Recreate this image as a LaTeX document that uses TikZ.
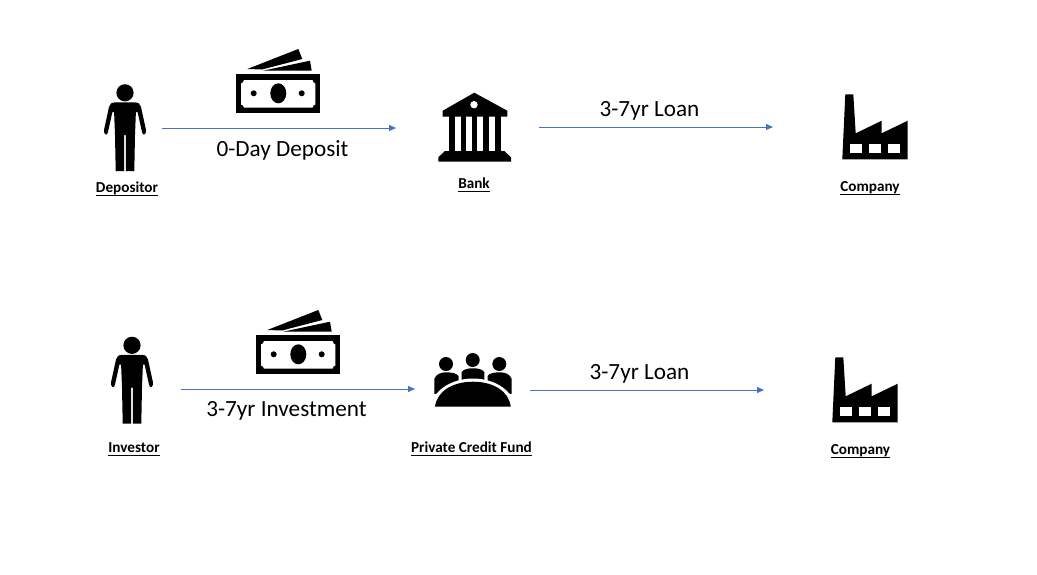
\documentclass[tikz,border=0pt]{standalone}
\usepackage{fontspec}
\setmainfont{Carlito}
\usetikzlibrary{arrows.meta}
\definecolor{arrowblue}{HTML}{4472C4}
\newcommand{\capul}[1]{\underline{\smash{#1}\rule[-1.5pt]{0pt}{0pt}}}
\tikzset{
  ink/.style={fill=black,draw=none},
  hole/.style={fill=white,draw=none},
  anchorbox/.style={inner sep=0pt,outer sep=0pt,minimum height=2pt},
  flow/.style={draw=arrowblue,line width=0.9pt,-{Triangle[length=7pt,width=6pt]}},
  caption/.style={inner sep=0pt,anchor=base,font=\fontsize{15.2}{17}\selectfont\bfseries},
  flowlabel/.style={inner sep=0pt,font=\fontsize{23.2}{27}\selectfont},
  person/.pic={
    \fill[ink] (125,92.8) circle (8.6pt);
    \fill[ink] (125,102.3) -- (134,102.3) .. controls (139,102.3) and (140,104) .. (141,107)
      -- (146,130) .. controls (146.6,134) and (143,137) .. (142,132) -- (137.6,112) -- (135.9,112)
      -- (135,135) -- (134.3,171) -- (125.9,171) -- (125.9,135) -- (124.1,135) -- (124.1,171)
      -- (115.7,171) -- (115,135) -- (114.1,112) -- (112.4,112) -- (108,132)
      .. controls (107,137) and (103.4,134) .. (104,130) -- (109,107)
      .. controls (110,104) and (111,102.3) .. (116,102.3) -- cycle;
  },
  money/.pic={
    \fill[ink] (247.3,69) -- (298.3,49) -- (302.3,59) -- (262,69.5) -- cycle;
    \fill[ink] (263,70.7) -- (310,60.7) -- (311.7,70.7) -- cycle;
    \fill[ink] (236,74.3) rectangle (320,112.7);
    \fill[hole] (244,80) -- (312.5,80) .. controls (313,82.5) and (314,83) .. (315.3,83.5)
      -- (315.3,104.5) .. controls (314,105) and (313,105.5) .. (312.5,107.7)
      -- (244,107.7) .. controls (243.5,105.5) and (242.5,105) .. (241,104.5)
      -- (241,83.5) .. controls (242.5,83) and (243.5,82.5) .. (244,80) -- cycle;
    \fill[ink] (278.3,93.3) ellipse (8pt and 10pt);
    \fill[ink] (253.7,93.3) circle (3pt);
    \fill[ink] (301.7,93.3) circle (3pt);
  },
  bankicon/.pic={
    \fill[ink] (474.3,92.7) -- (507.3,110.7) -- (507.3,116.7) -- (442.7,116.7) -- (442.7,110.7) -- cycle;
    \fill[hole] (474,104.7) circle (3.7pt);
    \foreach \a/\b in {449.3/454.7,460.7/466,472/477.3,483.3/488.7,494.7/500.7}
      \fill[ink] (\a,116) rectangle (\b,152);
    \fill[ink] (445,151) -- (504.3,151) -- (511,157.3) -- (511,161.7) -- (438.3,161.7) -- (438.3,157.3) -- cycle;
  },
  factory/.pic={
    \fill[ink] (845.3,94.3) -- (853.3,94.3) -- (855.7,133.3) -- (881.7,120.7) -- (881.7,133.3)
      -- (907.7,120.7) -- (907.7,159.3) -- (842.3,159.3) -- cycle;
    \foreach \a/\b in {850/861.7,869.3/880.7,888.3/900}
      \fill[hole] (\a,144.3) rectangle (\b,152.7);
  },
  fundicon/.pic={
    \fill[ink] (446,364) circle (7pt);
    \fill[ink] (472.7,360) circle (7pt);
    \fill[ink] (499.3,364) circle (7pt);
    \fill[ink] (434.3,394) -- (434.3,379) .. controls (436,374) and (441,372.3) .. (446,372.3)
      .. controls (452,372.3) and (457,373.5) .. (458.5,376) -- (458.5,390) -- cycle;
    \fill[ink] (511.7,394) -- (511.7,379) .. controls (510,374) and (505,372.3) .. (499.7,372.3)
      .. controls (494,372.3) and (489,373.5) .. (487.5,376) -- (487.5,390) -- cycle;
    \fill[ink] (461.7,380) -- (461.7,372) .. controls (464,369) and (468,368.3) .. (473,368.3)
      .. controls (478,368.3) and (482,369) .. (484.3,372) -- (484.3,380) -- cycle;
    \fill[hole] (473,409) ellipse (42pt and 30.5pt);
    \fill[ink] (435,406.7) .. controls (437,391) and (453,381.7) .. (473,381.7)
      .. controls (493,381.7) and (509,391) .. (510.7,406.7) -- cycle;
  }
}
\begin{document}
\begin{tikzpicture}[x=1pt,y=-1pt]
\useasboundingbox (0,0) rectangle (1037,574);
\fill[white] (0,0) rectangle (1037,574);
% icons
\pic {person};
\pic {money};
\pic {bankicon};
\pic {factory};
\pic[shift={(7,252.5)}] {person};
\pic[shift={(20,261)}] {money};
\pic {fundicon};
\pic[shift={(-10,263)}] {factory};
% invisible nodes spanning each icon's connector clearance
\node[anchorbox,minimum width=74pt] (depositor) at (125,128) {};
\node[anchorbox,minimum width=143pt] (bank) at (467.5,127) {};
\node[anchorbox,minimum width=204pt] (company) at (875,127) {};
\node[anchorbox,minimum width=98pt] (investor) at (132,389) {};
\node[anchorbox,minimum width=115pt] (fund) at (472.5,390) {};
\node[anchorbox,minimum width=202pt] (companyb) at (865,390) {};
% connectors
\draw[flow] (depositor.east) -- (depositor.east -| bank.west);
\draw[flow] (bank.east) -- (company.west);
\draw[flow] (investor.east) -- (investor.east -| fund.west);
\draw[flow] (fund.east) -- (companyb.west);
% captions
\node[caption] (l1) at (127,192.5) {\capul{Depositor}};
\node[caption] (l2) at (474,188.5) {\capul{Bank}};
\node[caption] (l3) at (870,191) {\capul{Company}};
\node[caption] (l4) at (134,452) {\capul{Investor}};
\node[caption] (l5) at (471.5,452) {\capul{Private Credit Fund}};
\node[caption] (l6) at (860.5,454) {\capul{Company}};
% flow labels
\node[flowlabel] (f1) at (282.5,150) {0-Day Deposit};
\node[flowlabel] (f2) at (649.5,111) {3-7yr Loan};
\node[flowlabel] (f3) at (286.5,411) {3-7yr Investment};
\node[flowlabel] (f4) at (639.5,374) {3-7yr Loan};
\end{tikzpicture}
\end{document}
